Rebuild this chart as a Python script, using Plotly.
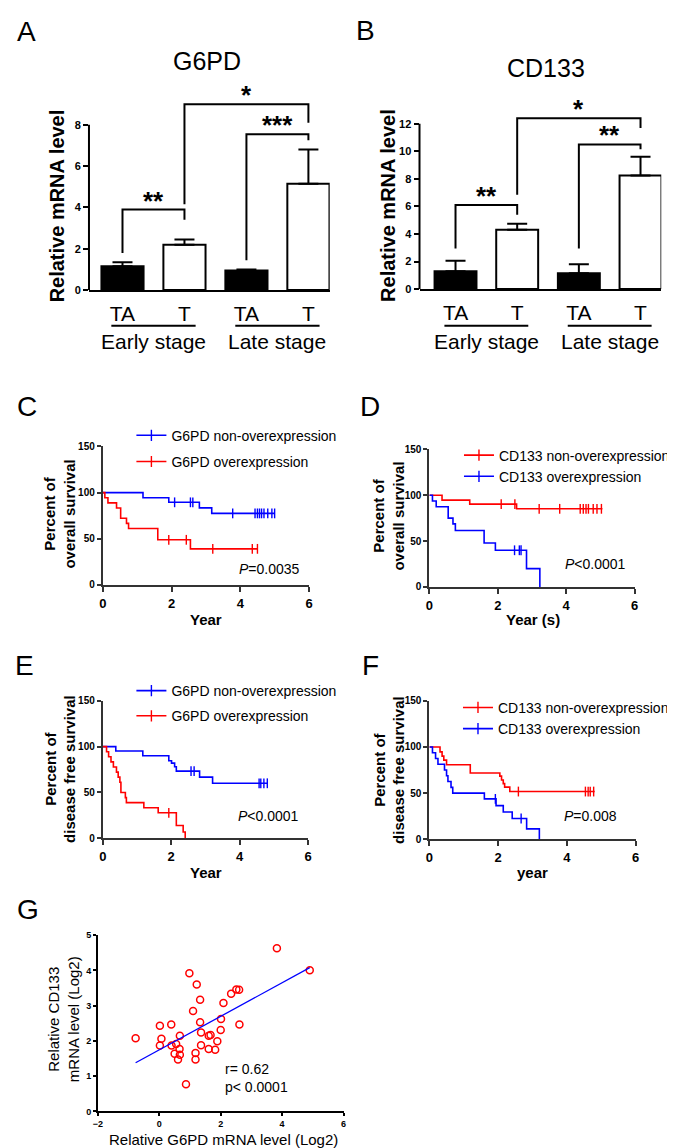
import plotly.graph_objects as go
import numpy as np

W, H = 675, 1148
def px(x): return x / W
def py(y): return 1 - y / H

FONT = "Arial, 'Liberation Sans', sans-serif"
BLUE = "#0000FF"
RED = "#FF0000"
AX = "#333333"

# ---------------- data ----------------
bar_labels = ["TA", "T", "TA", "T"]
stage_labels = ["Early stage", "Late stage"]
bar_colors = ["black", "white", "black", "white"]

g6pd_mean = [1.15, 2.2, 0.95, 5.15]
g6pd_err = [0.2, 0.25, 0.05, 1.65]
cd133_mean = [1.3, 4.3, 1.15, 8.25]
cd133_err = [0.75, 0.45, 0.65, 1.35]

g6pd_brk_left = [0, 2, 1]
g6pd_brk_right = [1, 3, 3]
g6pd_brk_top = [3.9, 7.55, 9.0]
g6pd_brk_lfoot = [1.8, 1.45, 4.15]
g6pd_brk_rfoot = [3.4, 7.25, 8.1]
g6pd_brk_text = ["**", "***", "*"]

cd133_brk_left = [0, 2, 1]
cd133_brk_right = [1, 3, 3]
cd133_brk_top = [6.1, 10.5, 12.4]
cd133_brk_lfoot = [2.95, 2.95, 6.85]
cd133_brk_rfoot = [5.4, 10.15, 11.7]
cd133_brk_text = ["**", "**", "*"]

# Kaplan-Meier panels (times in years, survival %)
c_non_t = [0, 1.17, 1.92, 2.81, 3.17, 5.0]
c_non_s = [100, 94.4, 89.5, 83.5, 77.5, 77.5]
c_non_cens = [2.09, 2.55, 2.62, 3.78, 4.43, 4.5, 4.56, 4.62, 4.69, 4.8, 4.92, 5.0]
c_ovr_t = [0, 0.06, 0.15, 0.40, 0.52, 0.69, 0.75, 1.60, 2.55, 4.5]
c_ovr_s = [100, 94.4, 88.9, 83.3, 72.2, 66.7, 61.1, 48.9, 39.1, 39.1]
c_ovr_cens = [1.92, 2.43, 3.2, 4.35, 4.5]

d_non_t = [0, 0.37, 1.18, 2.55, 5.06]
d_non_s = [100, 94.7, 90.3, 85.2, 85.2]
d_non_cens = [2.1, 2.5, 3.21, 3.81, 4.41, 4.5, 4.58, 4.65, 4.79, 4.9, 5.03]
d_ovr_t = [0, 0.09, 0.2, 0.55, 0.69, 0.76, 1.6, 1.93, 2.84, 3.23]
d_ovr_s = [100, 93.75, 87.5, 75, 68.75, 61.5, 48, 40, 20, 0]
d_ovr_cens = [2.49, 2.63, 2.68]

e_non_t = [0, 0.38, 1.17, 1.93, 2.01, 2.1, 2.15, 2.83, 3.21, 4.81]
e_non_s = [100, 95.2, 90, 84.6, 82, 78, 73.3, 66.7, 60, 60]
e_non_cens = [2.58, 2.67, 4.57, 4.62, 4.71, 4.81]
e_ovr_t = [0, 0.11, 0.17, 0.24, 0.31, 0.4, 0.45, 0.5, 0.53, 0.66, 0.69, 1.2, 1.62, 2.15, 2.35, 2.41]
e_ovr_s = [100, 94.4, 88.9, 83.3, 77.8, 72.2, 66.7, 61.1, 50, 44.4, 38.9, 33.3, 27.8, 13.9, 6.9, 0]
e_ovr_cens = [1.93]

f_non_t = [0, 0.31, 0.37, 0.42, 0.5, 1.19, 2.05, 2.1, 2.15, 2.19, 2.34, 4.81]
f_non_s = [100, 94.6, 90, 85.7, 80.7, 71.8, 68.4, 64.2, 60.3, 56.5, 51.7, 51.7]
f_non_cens = [2.59, 4.54, 4.62, 4.68, 4.78]
f_ovr_t = [0, 0.09, 0.18, 0.25, 0.44, 0.5, 0.54, 0.63, 0.68, 1.6, 1.94, 2.15, 2.41, 2.83, 3.2]
f_ovr_s = [100, 93.75, 87.5, 81.25, 75, 68.75, 62.5, 56.25, 50, 43.75, 36.5, 29.5, 22.5, 11.3, 0]
f_ovr_cens = [1.92, 2.67]

# Scatter panel G
g_x = [-0.77, 0.02, 0.07, 0.02, 0.39, 0.40, 0.55, 0.50, 0.66, 0.67, 0.61, 0.67, 0.87,
       0.98, 1.10, 1.22, 1.18, 1.18, 1.33, 1.33, 1.36, 1.36, 1.61, 1.61, 1.67, 1.82,
       1.89, 2.00, 2.01, 2.09, 2.34, 2.51, 2.60, 2.61, 3.83, 4.90]
g_y = [2.08, 2.43, 2.06, 1.87, 2.47, 1.87, 1.91, 1.64, 1.77, 1.61, 1.47, 2.15, 0.77,
       3.92, 2.85, 3.60, 1.66, 1.47, 3.17, 2.53, 2.24, 1.88, 1.77, 2.15, 2.17, 1.75,
       1.99, 2.31, 2.62, 3.08, 3.34, 3.46, 3.45, 2.47, 4.63, 4.01]
fit_x = [-0.77, 4.90]
fit_y = [1.38, 4.08]

# ---------------- figure ----------------
fig = go.Figure()
annotations = []
shapes = []

def ann(text, x, y, size, xref="paper", yref="paper", bold=False,
        xanchor="center", yanchor="middle", angle=0, align="center", yshift=0):
    annotations.append(dict(
        text=text, x=x, y=y, xref=xref, yref=yref, showarrow=False,
        xanchor=xanchor, yanchor=yanchor, textangle=angle, align=align, yshift=yshift,
        font=dict(family=FONT, size=size, color="black",
                  weight="bold" if bold else "normal"),
    ))

def bar_panel(ax, means, errs, bl, br, btop, blf, brf, btxt, ymax, yline):
    xs = list(range(len(bar_labels)))
    fig.add_trace(go.Bar(
        x=xs, y=means, width=0.68, xaxis=f"x{ax}", yaxis=f"y{ax}",
        marker=dict(color=bar_colors, line=dict(color="black", width=2)),
        error_y=dict(type="data", symmetric=False, array=errs, arrayminus=[0] * len(errs),
                     color="black", thickness=2, width=10),
        showlegend=False, hoverinfo="skip"))
    for l, r, t, lf, rf, s in zip(bl, br, btop, blf, brf, btxt):
        fig.add_trace(go.Scatter(
            x=[l, l, r, r], y=[lf, t, t, rf], mode="lines",
            line=dict(color="black", width=2), xaxis=f"x{ax}", yaxis=f"y{ax}",
            showlegend=False, hoverinfo="skip"))
        ann(s, (l + r) / 2, t, 26, xref=f"x{ax}", yref=f"y{ax}", bold=True,
            yanchor="bottom", yshift=-8)
    # y axis line stops at the last tick
    shapes.append(dict(type="line", xref="paper", yref=f"y{ax}",
                       x0=yline, x1=yline, y0=0, y1=ymax,
                       line=dict(color="black", width=2)))
    for i, lab in enumerate(stage_labels):
        c = 2 * i + 0.5
        shapes.append(dict(type="line", xref=f"x{ax}", yref="paper",
                           x0=c - 0.68, x1=c + 0.68, y0=py(315), y1=py(315),
                           line=dict(color="black", width=2)))
        ann(lab, c, py(331), 21, xref=f"x{ax}")

bar_panel("", g6pd_mean, g6pd_err, g6pd_brk_left, g6pd_brk_right, g6pd_brk_top,
          g6pd_brk_lfoot, g6pd_brk_rfoot, g6pd_brk_text, 8, px(77))
bar_panel("2", cd133_mean, cd133_err, cd133_brk_left, cd133_brk_right, cd133_brk_top,
          cd133_brk_lfoot, cd133_brk_rfoot, cd133_brk_text, 12, px(412))

def step_y(times, surv, at):
    idx = np.searchsorted(np.array(times), np.array(at), side="right") - 1
    return [surv[i] for i in idx]

def km(ax, legend, curves):
    for name, t, s, cens, col in curves:
        fig.add_trace(go.Scatter(
            x=t, y=s, mode="lines", line=dict(color=col, width=1.6, shape="hv"),
            xaxis=f"x{ax}", yaxis=f"y{ax}", showlegend=False, hoverinfo="skip"))
        fig.add_trace(go.Scatter(
            x=cens, y=step_y(t, s, cens), mode="markers",
            marker=dict(symbol="line-ns-open", size=7, color=col,
                        line=dict(color=col, width=1.4)),
            xaxis=f"x{ax}", yaxis=f"y{ax}", showlegend=False, hoverinfo="skip",
            cliponaxis=False))
        fig.add_trace(go.Scatter(
            x=[None], y=[None], mode="lines+markers", name=name, legend=legend,
            legendgroup=name,
            line=dict(color=col, width=1.6),
            marker=dict(symbol="line-ns-open", size=8, color=col,
                        line=dict(color=col, width=1.4)),
            xaxis=f"x{ax}", yaxis=f"y{ax}"))

km("3", "legend", [("G6PD non-overexpression", c_non_t, c_non_s, c_non_cens, BLUE),
                   ("G6PD overexpression", c_ovr_t, c_ovr_s, c_ovr_cens, RED)])
km("4", "legend2", [("CD133 non-overexpression", d_non_t, d_non_s, d_non_cens, RED),
                    ("CD133 overexpression", d_ovr_t, d_ovr_s, d_ovr_cens, BLUE)])
km("5", "legend3", [("G6PD non-overexpression ", e_non_t, e_non_s, e_non_cens, BLUE),
                    ("G6PD overexpression ", e_ovr_t, e_ovr_s, e_ovr_cens, RED)])
km("6", "legend4", [("CD133 non-overexpression ", f_non_t, f_non_s, f_non_cens, RED),
                    ("CD133 overexpression ", f_ovr_t, f_ovr_s, f_ovr_cens, BLUE)])

fig.add_trace(go.Scatter(
    x=g_x, y=g_y, mode="markers", xaxis="x7", yaxis="y7", showlegend=False,
    marker=dict(symbol="circle-open", size=7, color=RED, line=dict(color=RED, width=1.5)),
    hoverinfo="skip"))
fig.add_trace(go.Scatter(
    x=fit_x, y=fit_y, mode="lines", xaxis="x7", yaxis="y7", showlegend=False,
    line=dict(color=BLUE, width=1.3), hoverinfo="skip"))

# ---------------- axes ----------------
def tf(size, bold=True):
    return dict(family=FONT, size=size, color="black", weight="bold" if bold else "normal")

layout = dict(
    width=W, height=H, margin=dict(l=0, r=0, t=0, b=0), autosize=False,
    paper_bgcolor="white", plot_bgcolor="white",
    font=dict(family=FONT, color="black"),
)

def bar_axes(ax, xdom, ydom, xr, yr, tvals):
    layout[f"xaxis{ax}"] = dict(
        domain=xdom, range=xr, anchor=f"y{ax}", showgrid=False, zeroline=False,
        showline=True, linecolor="black", linewidth=2, ticks="",
        tickvals=list(range(len(bar_labels))), ticktext=bar_labels,
        tickfont=tf(21, False), ticklabelstandoff=4)
    layout[f"yaxis{ax}"] = dict(
        domain=ydom, range=yr, anchor=f"x{ax}", showgrid=False, zeroline=False,
        showline=False, ticks="outside", ticklen=5, tickwidth=2, tickcolor="black",
        tickvals=tvals, tickfont=tf(11))

bar_axes("", [px(77), px(321)], [py(279), py(279 - 10 * 20.875)], [-0.541, 3.344],
         [0, 10], [0, 2, 4, 6, 8])
bar_axes("2", [px(412), px(657)], [py(278), py(278 - 14 * 13.92)], [-0.584, 3.336],
         [0, 14], [0, 2, 4, 6, 8, 10, 12])

def km_axes(ax, xdom, ydom):
    layout[f"xaxis{ax}"] = dict(
        domain=xdom, range=[0, 6], anchor=f"y{ax}", showgrid=False, zeroline=False,
        showline=True, linecolor=AX, linewidth=2, ticks="outside", ticklen=5,
        tickwidth=2, tickcolor=AX, tickvals=[0, 2, 4, 6], tickfont=tf(13))
    layout[f"yaxis{ax}"] = dict(
        domain=ydom, range=[0, 150], anchor=f"x{ax}", showgrid=False, zeroline=False,
        showline=True, linecolor=AX, linewidth=2, ticks="outside", ticklen=4,
        tickwidth=2, tickcolor=AX, tickvals=[0, 50, 100, 150], tickfont=tf(10))

km_axes("3", [px(91), px(300)], [py(577), py(437)])
km_axes("4", [px(422), px(630)], [py(579), py(440)])
km_axes("5", [px(91), px(299)], [py(833), py(694)])
km_axes("6", [px(422), px(631)], [py(834), py(694)])

layout["xaxis7"] = dict(
    domain=[px(86), px(335)], range=[-2, 6], anchor="y7", showgrid=False, zeroline=False,
    showline=True, linecolor="black", linewidth=1.5, ticks="outside", ticklen=3,
    tickwidth=1.5, tickcolor="black", tickvals=[-2, 0, 2, 4, 6], tickfont=tf(9))
layout["yaxis7"] = dict(
    domain=[py(1109), py(931)], range=[0, 5], anchor="x7", showgrid=False, zeroline=False,
    showline=True, linecolor="black", linewidth=1.5, ticks="outside", ticklen=3,
    tickwidth=1.5, tickcolor="black", tickvals=[0, 1, 2, 3, 4, 5], tickfont=tf(9))

def leg(x, y, gap):
    return dict(x=px(x), y=py(y), xanchor="left", yanchor="top", bgcolor="rgba(0,0,0,0)",
                font=dict(family=FONT, size=14, color="black"), tracegroupgap=gap,
                itemwidth=30, borderwidth=0)

layout["legend"] = leg(120, 410, 5)
layout["legend2"] = leg(452, 430, 0)
layout["legend3"] = leg(120, 668, 4)
layout["legend4"] = leg(451, 685, 0)

# ---------------- text ----------------
for lab, x, y in [("A", 14, 18), ("B", 357, 17), ("C", 14, 397), ("D", 362, 397),
                  ("E", 12, 658), ("F", 362, 658), ("G", 15, 905)]:
    ann(lab, px(x), py(y), 28)

ann("G6PD", px(197), py(47), 25)
ann("CD133", px(540), py(55), 25)
ann("Relative mRNA level", px(45), py(194), 20, bold=True, angle=-90)
ann("Relative mRNA level", px(380), py(193), 20, bold=True, angle=-90)

ann("Percent of<br>overall survival", px(47.5), py(505), 15, bold=True, angle=-90)
ann("Percent of<br>overall survival", px(381), py(507), 15, bold=True, angle=-90)
ann("Percent of<br>disease free survival", px(47.5), py(763), 15, bold=True, angle=-90)
ann("Percent of<br>disease free survival", px(381), py(764), 15, bold=True, angle=-90)

ann("Year", px(196), py(612), 15, bold=True)
ann("Year (s)", px(527), py(612), 15, bold=True)
ann("Year", px(196), py(868), 15, bold=True)
ann("year", px(527), py(868), 15, bold=True)

ann("<i>P</i>=0.0035", px(227), py(561), 14, xanchor="left")
ann("<i>P</i>&lt;0.0001", px(557), py(556), 14, xanchor="left")
ann("<i>P</i>&lt;0.0001", px(226), py(810), 14, xanchor="left")
ann("<i>P</i>=0.008", px(556), py(810), 14, xanchor="left")

ann("Relative CD133<br>mRNA level (Log2)", px(51.5), py(1016), 15, angle=-90)
ann("Relative G6PD mRNA level (Log2)", px(213), py(1137), 15)
ann("r= 0.62<br>p&lt; 0.0001", px(213), py(1075), 14, xanchor="left", align="left")

layout["annotations"] = annotations
layout["shapes"] = shapes
fig.update_layout(**layout)

fig.write_html("out.html")
